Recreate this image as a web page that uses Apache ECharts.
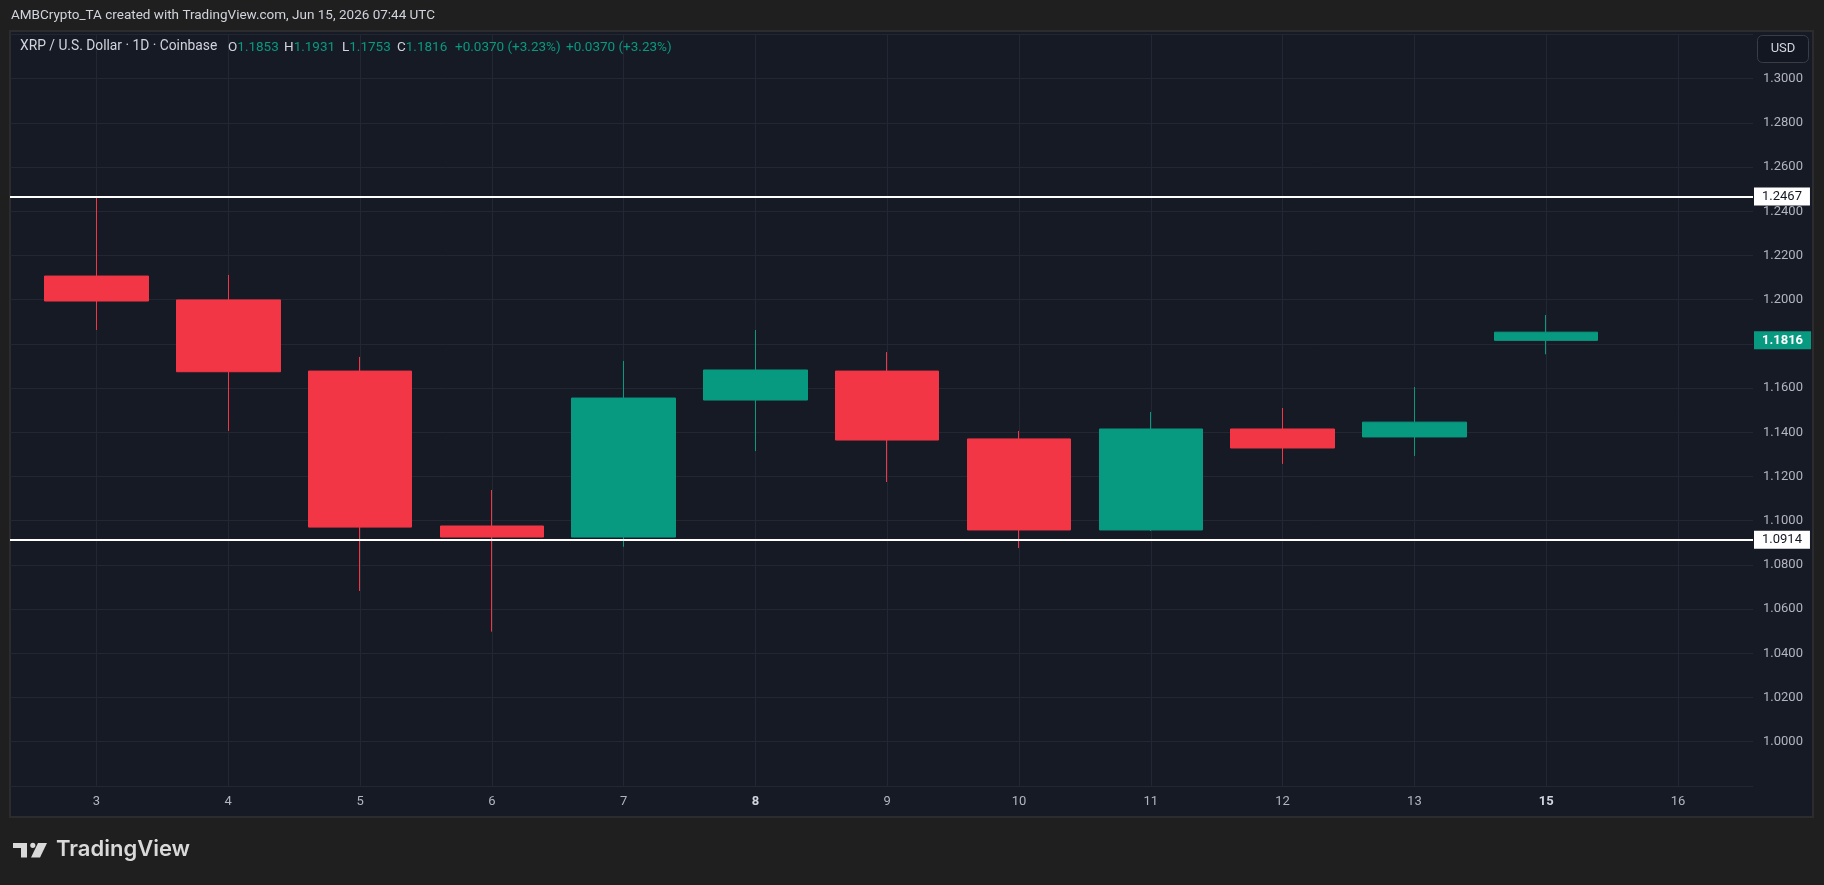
<!DOCTYPE html>
<html>
<head>
<meta charset="utf-8">
<script src="https://cdn.jsdelivr.net/npm/echarts@6/dist/echarts.min.js"></script>
<style>
html,body{margin:0;padding:0;background:#1f1f1f;}
#chart{width:1824px;height:885px;}
</style>
</head>
<body>
<div id="chart"></div>
<script>
// ---- data ----
const xLabels = ['3','4','5','6','7','8','9','10','11','12','13','15','16'];
const boldLabels = ['8','15'];
const candleDays = ['3','4','5','6','7','8','9','10','11','12','13','15'];
const openP  = [1.2107, 1.1999, 1.1677, 1.0976, 1.0926, 1.1546, 1.1677, 1.1370, 1.0958, 1.1415, 1.1379, 1.1853];
const closeP = [1.1994, 1.1674, 1.0971, 1.0926, 1.1555, 1.1682, 1.1365, 1.0958, 1.1415, 1.1329, 1.1446, 1.1816];
const lowP   = [1.1863, 1.1406, 1.0682, 1.0498, 1.0882, 1.1315, 1.1175, 1.0876, 1.0953, 1.1257, 1.1293, 1.1753];
const highP  = [1.2467, 1.2112, 1.1741, 1.1139, 1.1723, 1.1863, 1.1763, 1.1406, 1.1492, 1.1510, 1.1605, 1.1931];
const levels = [1.2467, 1.0914];
const titleText = 'AMBCrypto_TA created with TradingView.com, Jun 15, 2026 07:44 UTC';
const symbolText = 'XRP / U.S. Dollar \u00b7 1D \u00b7 Coinbase';

const UP = '#089981', DOWN = '#F23645';
const last = openP.length - 1;
const lastClose = closeP[last];
const chg = closeP[last] - closeP[last - 1];
const pct = chg / closeP[last - 1] * 100;
const chgText = (chg >= 0 ? '+' : '') + chg.toFixed(4) + ' (' + (pct >= 0 ? '+' : '') + pct.toFixed(2) + '%)';

const candleData = candleDays.map((d, i) => {
  const ref = i === 0 ? openP[i] : closeP[i - 1];
  const col = closeP[i] >= ref ? UP : DOWN;
  return {
    value: [xLabels.indexOf(d), openP[i], closeP[i], lowP[i], highP[i]],
    itemStyle: { color: col, color0: col, borderColor: col, borderColor0: col }
  };
});

const chart = echarts.init(document.getElementById('chart'));
const FONT = 'Roboto';

const legendRich = {
  l: { fill: '#d1d4dc', fontSize: 13.5, fontFamily: FONT },
  v: { fill: UP, fontSize: 13.5, fontFamily: FONT }
};
function legendPiece(x, letter, val) {
  return {
    type: 'text', left: x, top: 41, z: 10,
    style: { text: '{l|' + letter + '}{v|' + val + '}', rich: legendRich, font: '13.5px ' + FONT }
  };
}

const option = {
  backgroundColor: '#1f1f1f',
  animation: false,
  grid: { left: 10, width: 1743, top: 34.5, height: 751.4, containLabel: false },
  xAxis: {
    type: 'value',
    min: -0.656, max: 12.569,
    axisLine: { show: false },
    axisTick: { show: false, customValues: xLabels.map((_, i) => i) },
    axisLabel: {
      customValues: xLabels.map((_, i) => i),
      margin: 9,
      color: '#b2b5be',
      fontSize: 13,
      fontFamily: FONT,
      formatter: v => {
        const t = xLabels[Math.round(v)];
        return boldLabels.includes(t) ? '{b|' + t + '}' : t;
      },
      rich: { b: { fontWeight: 'bold', color: '#d1d4dc', fontSize: 13, fontFamily: FONT } }
    },
    splitLine: { show: true, lineStyle: { color: '#232733', width: 1 } }
  },
  yAxis: {
    type: 'value',
    position: 'right',
    min: 0.98, max: 1.32, interval: 0.02,
    axisLine: { show: false },
    axisTick: { show: false },
    axisLabel: {
      margin: 10,
      align: 'left',
      color: '#b2b5be',
      fontSize: 13,
      fontFamily: FONT,
      formatter: v => (v < 0.999 || v > 1.301) ? '' : v.toFixed(4)
    },
    splitLine: { show: true, lineStyle: { color: '#232733', width: 1 } }
  },
  series: [{
    type: 'candlestick',
    barWidth: 104,
    encode: { x: 0, y: [1, 2, 3, 4] },
    itemStyle: { borderWidth: 1 },
    data: candleData,
    markLine: {
      silent: true,
      precision: 4,
      symbol: ['none', 'none'],
      animation: false,
      data: [
        ...levels.map(v => ({
          yAxis: v,
          lineStyle: { color: '#ffffff', width: 2, type: 'solid' },
          label: {
            show: true, position: 'end', distance: 1,
            formatter: p => Number(p.value).toFixed(4),
            backgroundColor: '#ffffff', color: '#131722',
            fontSize: 13, fontFamily: FONT,
            padding: [3, 8, 2, 8]
          }
        })),
        {
          yAxis: lastClose,
          lineStyle: { color: 'rgba(0,0,0,0)', width: 0 },
          label: {
            show: true, position: 'end', distance: 1,
            formatter: p => Number(p.value).toFixed(4),
            backgroundColor: UP, color: '#ffffff', fontWeight: 'bold',
            fontSize: 13, fontFamily: FONT,
            padding: [3, 8, 2, 8]
          }
        }
      ]
    }
  }],
  graphic: [
    { type: 'rect', z: -10, shape: { x: 10, y: 31, width: 1803, height: 786 },
      style: { fill: '#161a25', stroke: '#2c2c2e', lineWidth: 2 } },
    { type: 'text', left: 11, top: 9, z: 10,
      style: { text: titleText, fill: '#d1d4dc', font: '13.5px ' + FONT } },
    { type: 'text', left: 20, top: 40, z: 10,
      style: { text: symbolText, fill: '#d1d4dc', font: '13.8px ' + FONT } },
    legendPiece(228, 'O', openP[last].toFixed(4)),
    legendPiece(284, 'H', highP[last].toFixed(4)),
    legendPiece(342, 'L', lowP[last].toFixed(4)),
    legendPiece(397, 'C', closeP[last].toFixed(4)),
    { type: 'text', left: 455, top: 41, z: 10, style: { text: chgText, fill: UP, font: '13.5px ' + FONT } },
    { type: 'text', left: 566, top: 41, z: 10, style: { text: chgText, fill: UP, font: '13.5px ' + FONT } },
    { type: 'rect', z: 10, shape: { x: 1757.5, y: 35.5, width: 51, height: 27, r: 5 },
      style: { fill: '#131722', stroke: '#3a3d46', lineWidth: 1 } },
    { type: 'text', z: 11, x: 1783, y: 49,
      style: { text: 'USD', fill: '#d1d4dc', font: '13px ' + FONT, align: 'center', verticalAlign: 'middle' } },
    // TradingView logo mark
    { type: 'polygon', z: 10, shape: { points: [[13,843],[27,843],[27,857.5],[21,857.5],[21,848],[13,848]] },
      style: { fill: '#d9d9d9' } },
    { type: 'circle', z: 10, shape: { cx: 32.8, cy: 845.3, r: 2.6 }, style: { fill: '#d9d9d9' } },
    { type: 'polygon', z: 10, shape: { points: [[38,843],[47,843],[40,857.5],[31,857.5]] },
      style: { fill: '#d9d9d9' } },
    { type: 'text', left: 56, top: 838, z: 10,
      style: { text: 'TradingView', fill: '#d9d9d9', font: '600 22px Inter' } }
  ]
};
chart.setOption(option);
</script>
</body>
</html>
